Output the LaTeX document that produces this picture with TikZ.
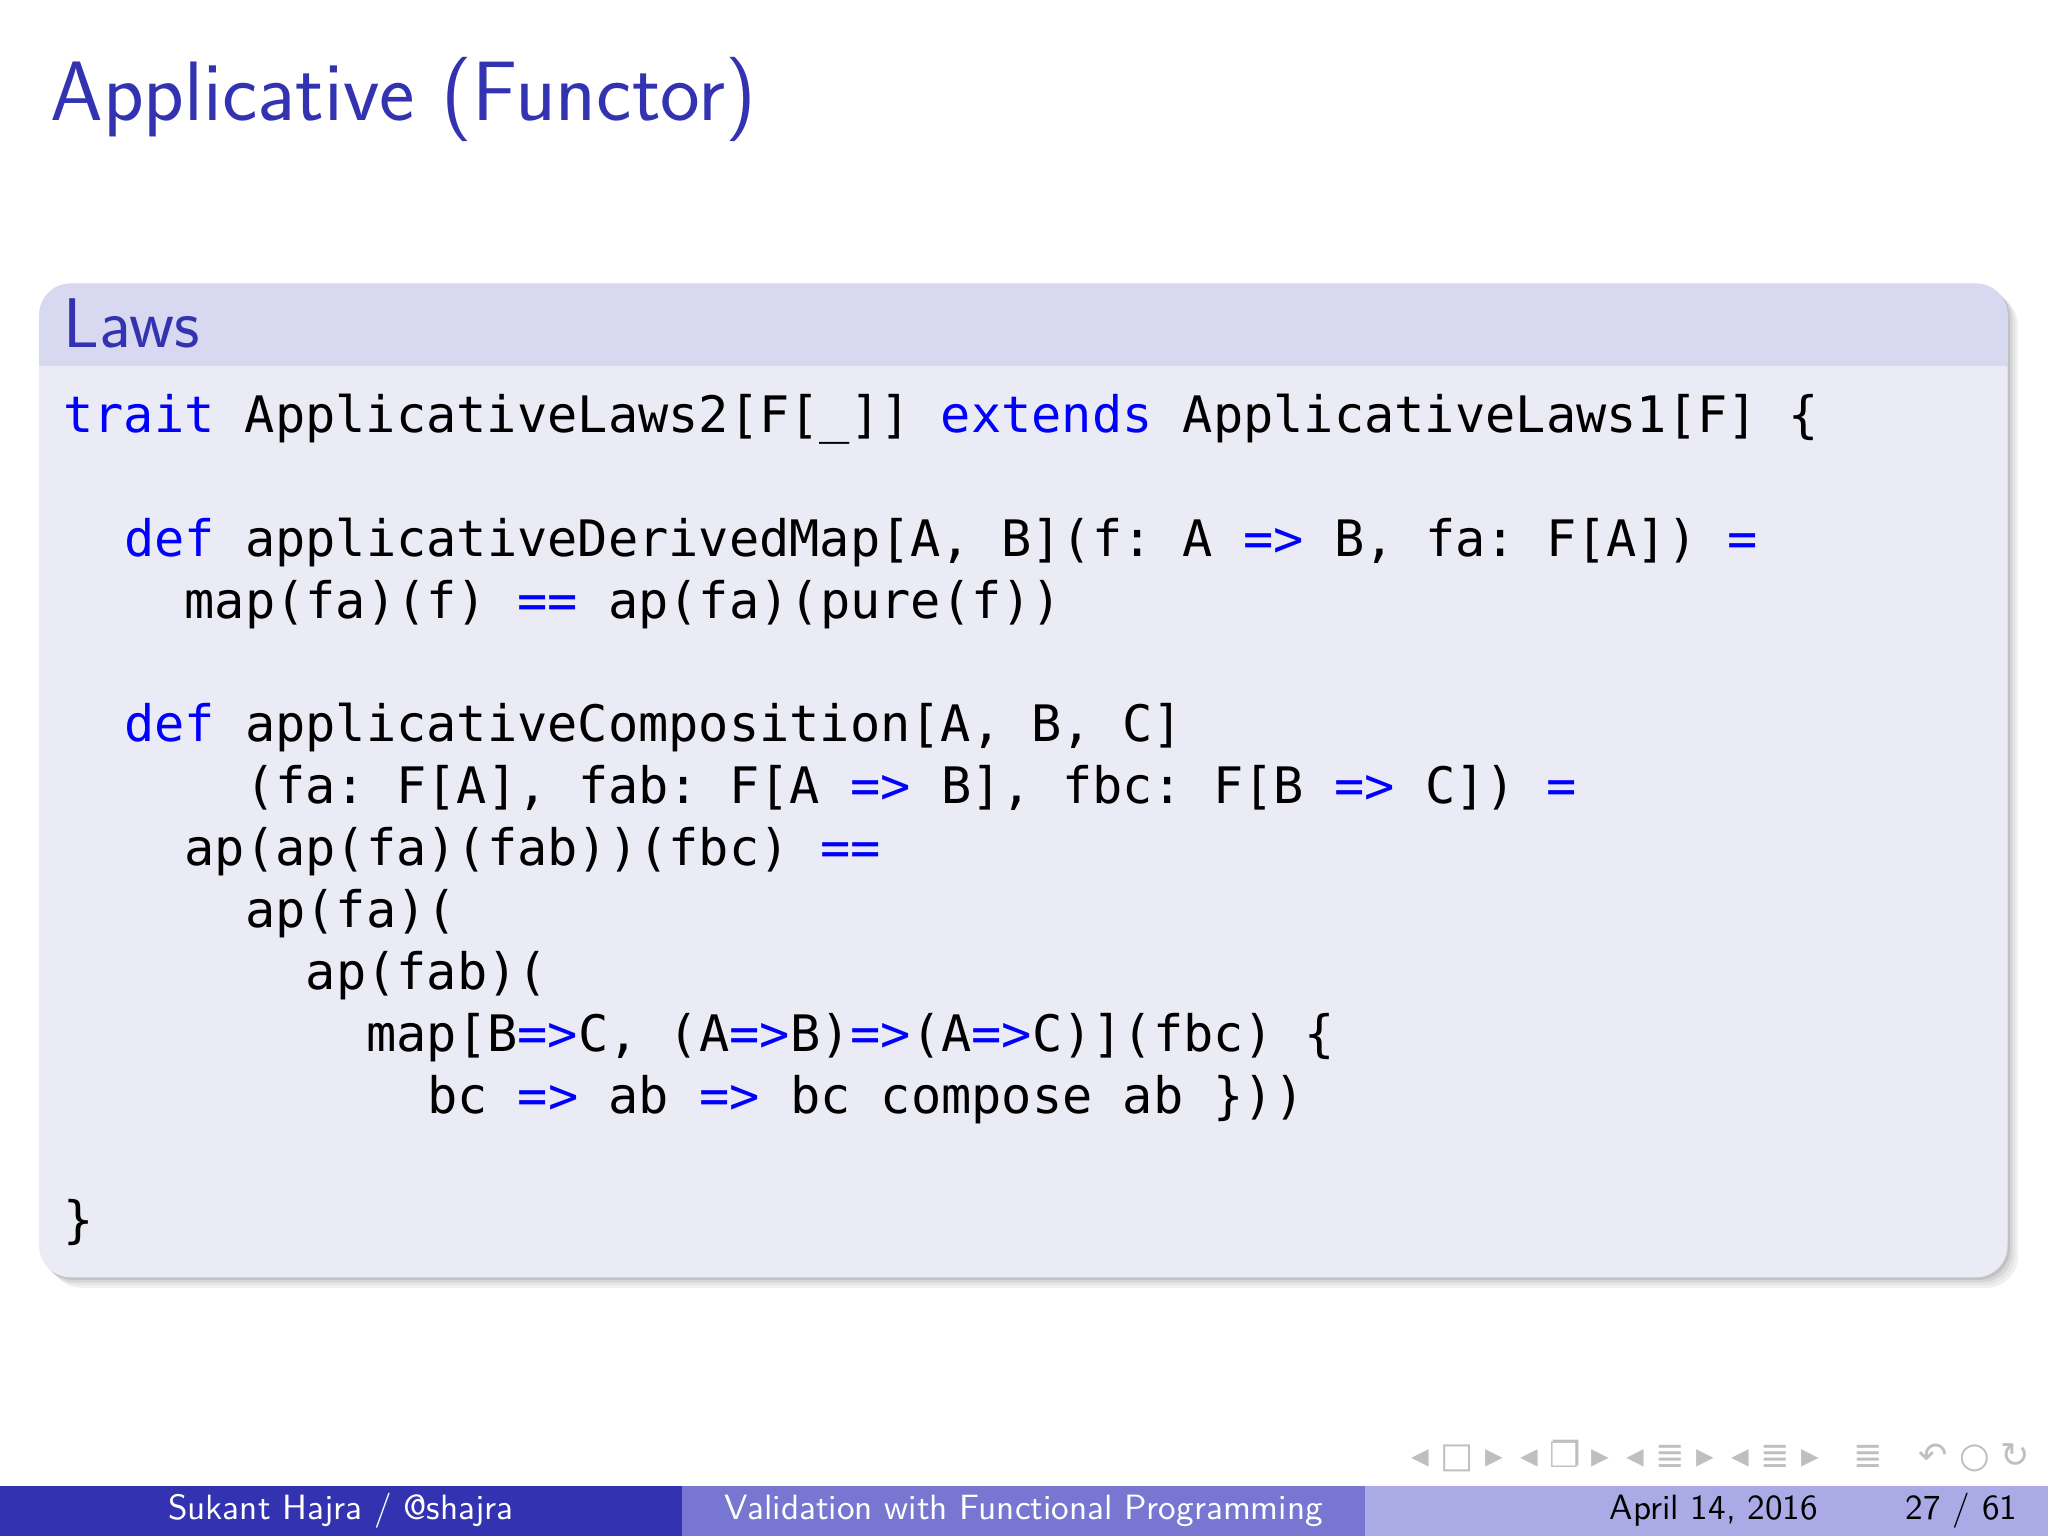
\documentclass[tikz,border=0pt]{standalone}
\usepackage{fontspec}
\setmonofont{DejaVu Sans Mono}
\newfontfamily\symf{DejaVu Sans}
\definecolor{bt}{RGB}{51,51,178}
\definecolor{hd}{RGB}{216,216,240}
\definecolor{bd}{RGB}{235,235,245}
\definecolor{f2}{RGB}{119,119,210}
\definecolor{f3}{RGB}{170,170,230}
\definecolor{kw}{RGB}{0,0,255}
\newcommand{\kk}[1]{\textcolor{kw}{#1}}
\tikzset{code/.style={anchor=base west,inner sep=0pt,font=\ttfamily\fontsize{14.3}{14.3}\selectfont},
ft/.style={inner sep=0pt,font=\sffamily\fontsize{10}{10}\selectfont}}
\begin{document}
\begin{tikzpicture}[x=0.01306cm,y=-0.01306cm]
\useasboundingbox (0,0) rectangle (1568,1176);
\fill[white] (0,0) rectangle (1568,1176);
\node[anchor=base west,inner sep=0pt,text=bt,font=\sffamily\fontsize{24}{24}\selectfont] (title) at (38,92) {Applicative (Functor)};
% block shadow
\foreach \k/\o in {6/8,10/6,16/4,24/2}{\fill[black!\k,rounded corners=9pt] ({30+\o},{217+\o}) rectangle ({1537+\o},{978+\o});}
\fill[bd,rounded corners=9pt] (30,217) rectangle (1537,978);
\fill[hd,rounded corners=9pt] (30,217) rectangle (1537,280);
\fill[hd] (30,250) rectangle (1537,280);
\node[anchor=base west,inner sep=0pt,text=bt,font=\sffamily\fontsize{20}{20}\selectfont] (laws) at (48,266) {Laws};
\def\cw{23.2}
\def\ls{47.4}
\foreach \r/\ind/\txt [count=\i] in {
0/0/{\kk{trait} ApplicativeLaws2[F[\_]] \kk{extends} ApplicativeLaws1[F] \{},
2/2/{\kk{def} applicativeDerivedMap[A, B](f: A \kk{=>} B, fa: F[A]) \kk{=}},
3/4/{map(fa)(f) \kk{==} ap(fa)(pure(f))},
5/2/{\kk{def} applicativeComposition[A, B, C]},
6/6/{(fa: F[A], fab: F[A \kk{=>} B], fbc: F[B \kk{=>} C]) \kk{=}},
7/4/{ap(ap(fa)(fab))(fbc) \kk{==}},
8/6/{ap(fa)(},
9/8/{ap(fab)(},
10/10/{map[B\kk{=>}C, (A\kk{=>}B)\kk{=>}(A\kk{=>}C)](fbc) \{},
11/12/{bc \kk{=>} ab \kk{=>} bc compose ab \}))},
13/0/{\}}}
{\node[code] (c\i) at ({48+\ind*\cw},{331+\r*\ls}) {\txt};}
% footer
\fill[bt] (0,1138) rectangle (522,1176);
\fill[f2] (522,1138) rectangle (1045,1176);
\fill[f3] (1045,1138) rectangle (1568,1176);
\node[ft,text=white] (au) at (261,1157) {Sukant Hajra / @shajra};
\node[ft,text=white] (tt) at (784,1157) {Validation with Functional Programming};
\node[ft,anchor=west] (dt) at (1232,1157) {April 14, 2016};
\node[ft,anchor=east] (pg) at (1545,1157) {27 / 61};
\node[inner sep=0pt,anchor=east,text=black!25,font=\symf\fontsize{10}{10}\selectfont] (nav) at (1555,1115) {◂ □ ▸\enspace ◂ ❐ ▸\enspace ◂ ≣ ▸\enspace ◂ ≣ ▸\quad ≣\quad ↶ ○ ↻};
\end{tikzpicture}
\end{document}
